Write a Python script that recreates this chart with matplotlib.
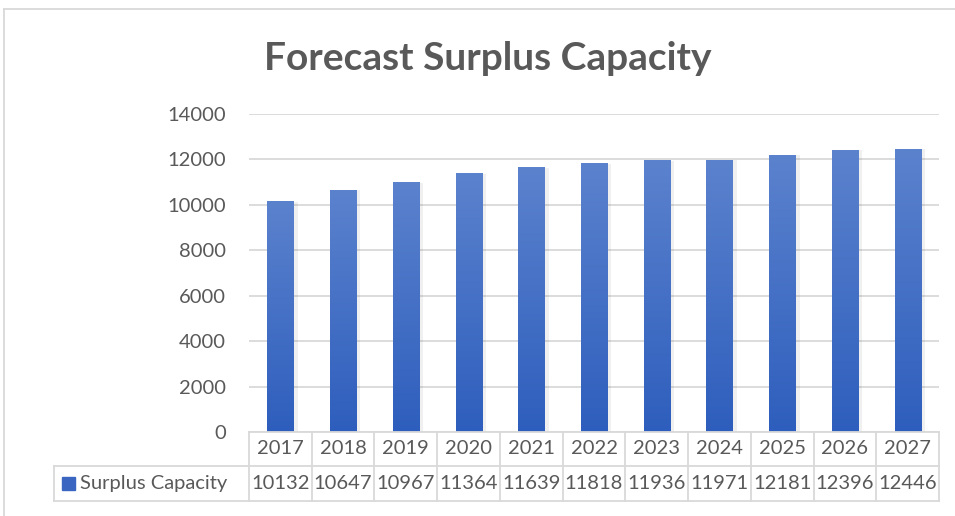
import numpy as np
import matplotlib.pyplot as plt
from matplotlib.colors import LinearSegmentedColormap

years = ['2017', '2018', '2019', '2020', '2021', '2022', '2023', '2024', '2025', '2026', '2027']
surplus = [10132, 10647, 10967, 11364, 11639, 11818, 11936, 11971, 12181, 12396, 12446]
y_ticks = [0, 2000, 4000, 6000, 8000, 10000, 12000, 14000]

W, H = 955, 516
plt.rcParams['font.family'] = ['Lato', 'DejaVu Sans']
txt = '#595959'
grid = '#d9d9d9'
fs = 14.5

fig = plt.figure(figsize=(W / 100, H / 100), dpi=100)


def fx(px):
    return px / W


def fy(py):
    return 1 - py / H


# plot area in pixels
left, right, top, bottom = 249, 939, 114, 432
ax = fig.add_axes([fx(left), fy(bottom), fx(right - left), fy(top) - fy(bottom)])

cmap = LinearSegmentedColormap.from_list('bar', ['#2e5ebd', '#5b82cd'])
grad = np.linspace(0, 1, 256).reshape(-1, 1)
bw = 0.415
for i, v in enumerate(surplus):
    # faint shadow
    ax.bar(i + 0.04, v, width=bw + 0.06, color='#000000', alpha=0.06, zorder=2)
    ax.imshow(grad, cmap=cmap, origin='lower', aspect='auto',
              extent=[i - bw / 2, i + bw / 2, 0, v], zorder=3)
ax.set_xlim(-0.5, len(years) - 0.5)
ax.set_ylim(0, 14000)

ax.set_yticks(y_ticks)
ax.set_yticklabels([str(t) for t in y_ticks], fontsize=fs, color=txt)
ax.tick_params(axis='y', length=0, pad=16.5)
ax.set_xticks([])
ax.grid(axis='y', color=grid, linewidth=1.3, zorder=0)
for s in ax.spines.values():
    s.set_visible(False)

# data table
cw = (right - left) / len(years)
r1, r2, r3 = 432, 466, 501
lab_left = 54
lc = '#d9d9d9'
lw = 1.3
fig.add_artist(plt.Line2D([fx(left), fx(right)], [fy(r1), fy(r1)], color=lc, lw=lw))
for ry in (r2, r3):
    fig.add_artist(plt.Line2D([fx(lab_left), fx(right)], [fy(ry), fy(ry)], color=lc, lw=lw))
for k in range(len(years) + 1):
    x = left + k * cw
    fig.add_artist(plt.Line2D([fx(x), fx(x)], [fy(r1), fy(r3)], color=lc, lw=lw))
fig.add_artist(plt.Line2D([fx(lab_left), fx(lab_left)], [fy(r2), fy(r3)], color=lc, lw=lw))

for k, (yr, v) in enumerate(zip(years, surplus)):
    cx = left + (k + 0.5) * cw
    fig.text(fx(cx), fy((r1 + r2) / 2), yr, ha='center', va='center', fontsize=fs, color=txt)
    fig.text(fx(cx), fy((r2 + r3) / 2), str(v), ha='center', va='center', fontsize=fs, color=txt)

fig.add_artist(plt.Rectangle((fx(62), fy(490)), fx(13), fy(477) - fy(490), color='#3a66c2'))
fig.text(fx(80), fy((r2 + r3) / 2), 'Surplus Capacity', ha='left', va='center', fontsize=fs, color=txt)

# title
fig.text(fx(488), fy(58), 'Forecast Surplus Capacity', ha='center', va='center',
         fontsize=28, fontweight='bold', color=txt)

# chart border
fig.add_artist(plt.Line2D([fx(4), fx(4)], [fy(9), 0], color=lc, lw=1.3))
fig.add_artist(plt.Line2D([fx(4), 1], [fy(9), fy(9)], color=lc, lw=1.3))

fig.savefig('out.png', dpi=100)
